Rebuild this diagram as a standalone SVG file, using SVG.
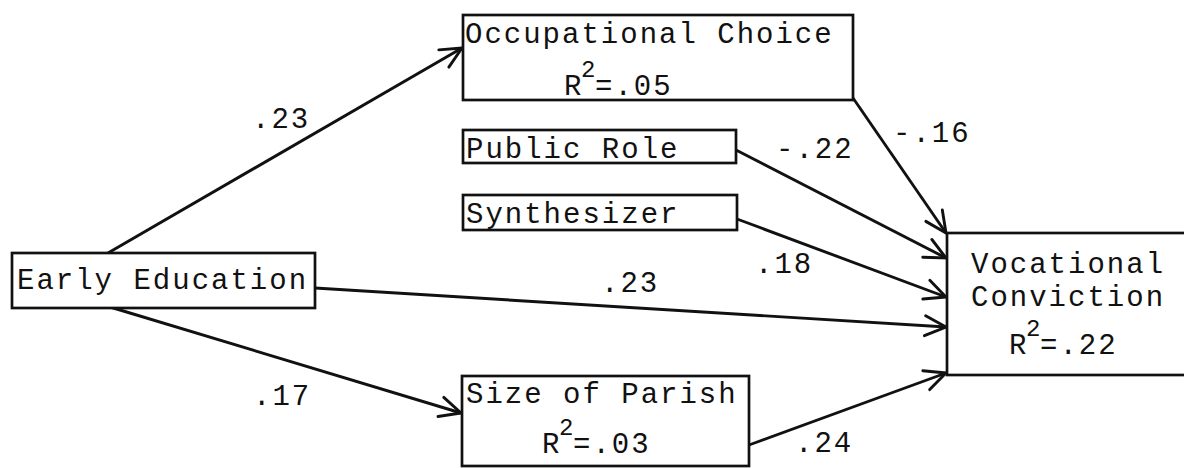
<svg xmlns="http://www.w3.org/2000/svg" width="1184" height="468" viewBox="0 0 1184 468">
  <style>
    .box { fill: #ffffff; stroke: #111111; stroke-width: 2.7; }
    .t { font-family: "Liberation Mono", "DejaVu Sans Mono", monospace; font-size: 29px; letter-spacing: 2px; fill: #111111; }
    .sup { font-size: 24px; letter-spacing: 0; }
    .edge { fill: none; stroke: #111111; stroke-width: 2.9; marker-end: url(#arr); }
  </style>
  <defs>
    <marker id="arr" markerUnits="userSpaceOnUse" markerWidth="30" markerHeight="30" viewBox="-26 -15 30 30" refX="0" refY="0" orient="auto">
      <path d="M -21 -10 L 0 0 L -21 10" fill="none" stroke="#111111" stroke-width="2.9" stroke-linecap="round" stroke-linejoin="miter"/>
    </marker>
  </defs>
  <rect width="1184" height="468" fill="#ffffff"/>

  <g id="connectors">
    <line class="edge" x1="108" y1="253" x2="462" y2="48"/>
    <line class="edge" x1="110" y1="307" x2="461" y2="413"/>
    <line class="edge" x1="315" y1="288" x2="946" y2="327"/>
    <line class="edge" x1="853" y1="98" x2="946" y2="233"/>
    <line class="edge" x1="736" y1="150" x2="946" y2="258"/>
    <line class="edge" x1="737" y1="219" x2="946" y2="297"/>
    <line class="edge" x1="749" y1="445" x2="946" y2="373"/>
  </g>

  <g id="edge-labels">
    <text class="t" x="252" y="128">.23</text>
    <text class="t" x="253" y="405">.17</text>
    <text class="t" x="776" y="158">-.22</text>
    <text class="t" x="893" y="142">-.16</text>
    <text class="t" x="755" y="273">.18</text>
    <text class="t" x="601" y="292">.23</text>
    <text class="t" x="795" y="452">.24</text>
  </g>

  <g id="node-occupational-choice">
    <rect class="box" x="463" y="15" width="390" height="85"/>
    <text class="t" x="465" y="43">Occupational Choice</text>
    <text class="t" x="564" y="95">R<tspan class="sup" x="581" y="77">2</tspan><tspan x="595" y="95">=.05</tspan></text>
  </g>

  <g id="node-public-role">
    <rect class="box" x="463" y="130" width="273" height="33"/>
    <text class="t" x="466" y="158">Public Role</text>
  </g>

  <g id="node-synthesizer">
    <rect class="box" x="463" y="195" width="274" height="35"/>
    <text class="t" x="466" y="223">Synthesizer</text>
  </g>

  <g id="node-early-education">
    <rect class="box" x="12" y="253" width="303" height="55"/>
    <text class="t" x="17" y="289">Early Education</text>
  </g>

  <g id="node-size-of-parish">
    <rect class="box" x="462" y="376" width="287" height="90"/>
    <text class="t" x="466" y="403">Size of Parish</text>
    <text class="t" x="542" y="453">R<tspan class="sup" x="559" y="435">2</tspan><tspan x="573" y="453">=.03</tspan></text>
  </g>

  <g id="node-vocational-conviction">
    <rect class="box" x="947" y="233" width="250" height="142"/>
    <text class="t" x="971" y="273">Vocational</text>
    <text class="t" x="971" y="306">Conviction</text>
    <text class="t" x="1009" y="354">R<tspan class="sup" x="1026" y="336">2</tspan><tspan x="1040" y="354">=.22</tspan></text>
  </g>
</svg>
